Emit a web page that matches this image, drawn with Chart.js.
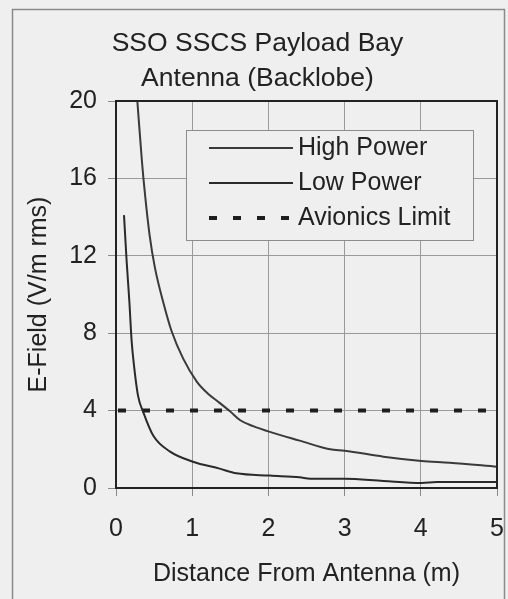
<!DOCTYPE html>
<html>
<head>
<meta charset="utf-8">
<script src="https://cdn.jsdelivr.net/npm/chart.js@4"></script>
<style>
  body { margin: 0; background: #efefef; }
  canvas { display: block; }
</style>
</head>
<body>
<canvas id="chart" width="508" height="599"></canvas>
<script>
"use strict";

// distance from antenna (m) and field (V/m rms)
const highPowerX = [0.28, 0.34, 0.38, 0.44, 0.51, 0.62, 0.73, 0.88, 1.06, 1.2, 1.36, 1.5, 1.63, 1.8, 2.02, 2.41, 2.81, 3.0, 3.51, 4.01, 4.38, 5.0];
const highPowerY = [20, 16.9, 15.2, 13.1, 11.4, 9.6, 8.1, 6.7, 5.5, 4.9, 4.4, 3.95, 3.5, 3.2, 2.9, 2.45, 2.0, 1.93, 1.62, 1.4, 1.31, 1.1];

const lowPowerX = [0.105, 0.14, 0.175, 0.205, 0.24, 0.29, 0.36, 0.49, 0.71, 1.01, 1.36, 1.58, 2.02, 2.41, 2.55, 3.0, 3.51, 4.01, 4.21, 5.0];
const lowPowerY = [14.1, 11.7, 9.65, 7.6, 6.2, 4.75, 3.9, 2.7, 1.88, 1.36, 1.0, 0.76, 0.64, 0.55, 0.48, 0.48, 0.36, 0.26, 0.31, 0.31];

const limitX = [0, 5];
const limitY = [4, 4];

const titleLines = ["SSO SSCS Payload Bay", "Antenna (Backlobe)"];
const xTitle = "Distance From Antenna (m)";
const yTitle = "E-Field (V/m rms)";

const FONT = "'Liberation Sans', Arial, sans-serif";
const INK = "#222";
const BG = "#efefef";

function toPoints(xs, ys) {
  return xs.map((x, i) => ({x: x, y: ys[i]}));
}

// page background and the outer frame round the whole picture
const framePlugin = {
  id: 'frame',
  beforeDraw(chart) {
    const ctx = chart.ctx;
    ctx.save();
    ctx.fillStyle = BG;
    ctx.fillRect(0, 0, chart.width, chart.height);
    ctx.strokeStyle = "#8a8a8a";
    ctx.lineWidth = 1.5;
    ctx.strokeRect(12.5, 9.5, 492, chart.height + 10);
    ctx.restore();
  },
  afterDatasetsDraw(chart) {
    // top and right edges of the plot box (left/bottom come from the axes)
    const a = chart.chartArea;
    const ctx = chart.ctx;
    ctx.save();
    ctx.strokeStyle = INK;
    ctx.lineWidth = 2;
    ctx.beginPath();
    ctx.moveTo(a.left, a.top);
    ctx.lineTo(a.right, a.top);
    ctx.lineTo(a.right, a.bottom);
    ctx.stroke();
    ctx.restore();
  }
};

// boxed legend sitting inside the plot area
const boxLegendPlugin = {
  id: 'boxLegend',
  afterDatasetsDraw(chart) {
    const ctx = chart.ctx;
    const box = {left: 186, top: 130, right: 473, bottom: 240};
    ctx.save();
    ctx.fillStyle = BG;
    ctx.fillRect(box.left, box.top, box.right - box.left, box.bottom - box.top);
    ctx.strokeStyle = "#8c8c8c";
    ctx.lineWidth = 1;
    ctx.strokeRect(box.left + 0.5, box.top + 0.5, box.right - box.left, box.bottom - box.top);
    ctx.font = "25px " + FONT;
    ctx.textBaseline = "middle";
    ctx.fillStyle = INK;
    let y = 148;
    for (const ds of chart.data.datasets) {
      ctx.beginPath();
      ctx.strokeStyle = ds.borderColor;
      ctx.lineWidth = ds.borderWidth;
      ctx.setLineDash(ds.borderDash || []);
      ctx.moveTo(209, y);
      ctx.lineTo(293, y);
      ctx.stroke();
      ctx.setLineDash([]);
      ctx.fillText(ds.label, 298, y);
      y += 35;
    }
    ctx.restore();
  }
};

const config = {
  type: 'line',
  data: {
    datasets: [
      {
        label: 'High Power',
        data: toPoints(highPowerX, highPowerY),
        borderColor: '#3a3a3a',
        borderWidth: 2,
        pointRadius: 0,
        cubicInterpolationMode: 'monotone'
      },
      {
        label: 'Low Power',
        data: toPoints(lowPowerX, lowPowerY),
        borderColor: '#2a2a2a',
        borderWidth: 2,
        pointRadius: 0,
        cubicInterpolationMode: 'monotone'
      },
      {
        label: 'Avionics Limit',
        data: toPoints(limitX, limitY),
        borderColor: '#1e1e1e',
        borderWidth: 4,
        borderDash: [8, 16],
        borderDashOffset: -2,
        pointRadius: 0
      }
    ]
  },
  options: {
    responsive: false,
    animation: false,
    layout: {padding: {left: 18, right: 11, top: 0, bottom: 0}},
    plugins: {
      legend: {display: false},
      tooltip: {enabled: false},
      title: {
        display: true,
        text: titleLines,
        color: INK,
        font: {family: FONT, size: 26.5, weight: 'normal', lineHeight: 35 / 26.5},
        padding: {top: 26, bottom: 5}
      }
    },
    scales: {
      x: {
        type: 'linear',
        min: 0,
        max: 5,
        afterFit(scale) {
          scale.height = 111;
          // the last label may hang over the frame, don't shrink the plot for it
          scale.paddingLeft = 0;
          scale.paddingRight = 0;
        },
        ticks: {stepSize: 1, color: INK, padding: 18, font: {family: FONT, size: 25}},
        grid: {color: '#9a9a9a', lineWidth: 1, tickLength: 8, tickColor: '#8a8a8a'},
        border: {display: true, color: INK, width: 2},
        title: {
          display: true,
          text: xTitle,
          color: INK,
          font: {family: FONT, size: 25},
          padding: {top: 0, bottom: 10}
        }
      },
      y: {
        min: 0,
        max: 20,
        afterFit(scale) { scale.width = 98; },
        ticks: {stepSize: 4, color: INK, padding: 11, font: {family: FONT, size: 25}},
        grid: {color: '#9a9a9a', lineWidth: 1, tickLength: 8, tickColor: '#8a8a8a'},
        border: {display: true, color: INK, width: 2},
        title: {
          display: true,
          text: yTitle,
          color: INK,
          font: {family: FONT, size: 25},
          padding: {top: 6, bottom: 0}
        }
      }
    }
  },
  plugins: [framePlugin, boxLegendPlugin]
};

new Chart(document.getElementById('chart').getContext('2d'), config);
</script>
</body>
</html>
